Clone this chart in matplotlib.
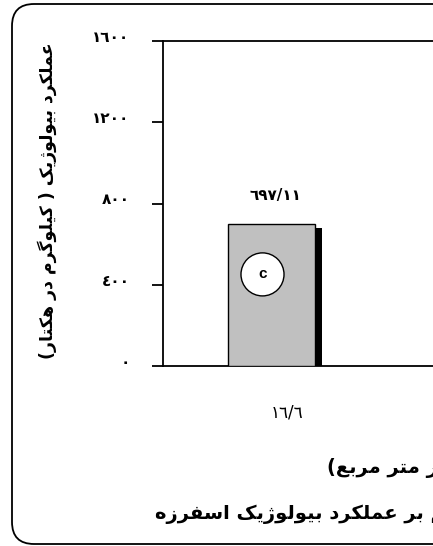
import numpy as np
import matplotlib
matplotlib.use('Agg')
import matplotlib.pyplot as plt
from matplotlib.patches import FancyBboxPatch
from matplotlib.transforms import ScaledTranslation

# data
densities = ['16.6']          # plants per square metre
bio_yield = [697.11]          # kg per hectare
groups = ['c']
y_ticks = [0, 400, 800, 1200, 1600]

ylabel_txt = 'عملکرد بیولوژیک ( کیلوگرم در هکتار)'
xlabel_txt = 'تراکم (تعداد بوته در متر مربع)'
title_txt = 'تأثیر تراکم بر عملکرد بیولوژیک اسفرزه'

# Arabic/Persian shaping by hand (matplotlib does no shaping or bidi)
# dual joining: isolated, final, initial, medial ; right joining: isolated, final
FORMS = {
    'ا': ('\ufe8d', '\ufe8e'), 'أ': ('\ufe83', '\ufe84'),
    'ب': ('\ufe8f', '\ufe90', '\ufe91', '\ufe92'),
    'پ': ('\ufb56', '\ufb57', '\ufb58', '\ufb59'),
    'ت': ('\ufe95', '\ufe96', '\ufe97', '\ufe98'),
    'ث': ('\ufe99', '\ufe9a', '\ufe9b', '\ufe9c'),
    'ج': ('\ufe9d', '\ufe9e', '\ufe9f', '\ufea0'),
    'د': ('\ufea9', '\ufeaa'), 'ر': ('\ufead', '\ufeae'),
    'ز': ('\ufeaf', '\ufeb0'), 'ژ': ('\ufb8a', '\ufb8b'),
    'س': ('\ufeb1', '\ufeb2', '\ufeb3', '\ufeb4'),
    'ش': ('\ufeb5', '\ufeb6', '\ufeb7', '\ufeb8'),
    'ع': ('\ufec9', '\ufeca', '\ufecb', '\ufecc'),
    'ف': ('\ufed1', '\ufed2', '\ufed3', '\ufed4'),
    'ک': ('\ufb8e', '\ufb8f', '\ufb90', '\ufb91'),
    'گ': ('\ufb92', '\ufb93', '\ufb94', '\ufb95'),
    'ل': ('\ufedd', '\ufede', '\ufedf', '\ufee0'),
    'م': ('\ufee1', '\ufee2', '\ufee3', '\ufee4'),
    'ن': ('\ufee5', '\ufee6', '\ufee7', '\ufee8'),
    'ه': ('\ufee9', '\ufeea', '\ufeeb', '\ufeec'),
    'و': ('\ufeed', '\ufeee'),
    'ی': ('\ufbfc', '\ufbfd', '\ufbfe', '\ufbff'),
}

def shape(text):
    out = []
    for i, ch in enumerate(text):
        if ch not in FORMS:
            out.append(ch)
            continue
        f = FORMS[ch]
        prev = text[i - 1] if i > 0 else ''
        nxt = text[i + 1] if i < len(text) - 1 else ''
        jp = prev in FORMS and len(FORMS[prev]) == 4
        jn = len(f) == 4 and nxt in FORMS
        if jp and jn:
            out.append(f[3])
        elif jp:
            out.append(f[1])
        elif jn:
            out.append(f[2])
        else:
            out.append(f[0])
    vis = ''.join(out)[::-1]
    return vis.translate(str.maketrans('()', ')('))

def to_ar(s):
    return str(s).translate(str.maketrans('0123456789.', '٠١٢٣٤٥٦٧٨٩/'))

plt.rcParams['font.family'] = ['DejaVu Sans']

fig = plt.figure(figsize=(4.33, 5.46), dpi=100)

# rounded frame round the whole chart
bg = fig.add_axes([0, 0, 1, 1])
bg.set_xlim(0, 433)
bg.set_ylim(546, 0)
bg.axis('off')
bg.add_patch(FancyBboxPatch((12, 4), 520, 540, boxstyle='round,pad=0,rounding_size=22',
                            fc='white', ec='black', lw=1.3))

ax = fig.add_axes([163 / 433, 180 / 546, 280 / 433, 325 / 546])
ax.patch.set_alpha(0)
x = np.arange(len(densities))
w = 0.348

shadow = ScaledTranslation(0.07, -0.04, fig.dpi_scale_trans)
ax.bar(x, bio_yield, width=w, color='black', transform=ax.transData + shadow, zorder=2)
ax.bar(x, bio_yield, width=w, color='#c0c0c0', edgecolor='black', lw=1, zorder=3)

for xi, v, g in zip(x, bio_yield, groups):
    ax.annotate(to_ar(v), (xi, v), xytext=(4, 29), textcoords='offset pixels',
                ha='center', va='center', fontsize=11, fontweight='bold')
    ax.annotate(g, (xi, v), xytext=(-9, -50), textcoords='offset pixels',
                ha='center', va='center', fontsize=11, fontweight='bold',
                family='Liberation Sans', zorder=4,
                bbox=dict(boxstyle='circle,pad=0.95', fc='white', ec='black', lw=1))

ax.set_xlim(-108.5 / 250, (280 - 108.5) / 250)
ax.set_ylim(0, 1600)
ax.set_yticks(y_ticks)
ax.set_yticklabels([to_ar(t) for t in y_ticks], fontsize=11, fontweight='bold')
ax.tick_params(axis='y', direction='out', length=8, width=1.3, pad=16)
for lab in ax.get_yticklabels():
    lab.set_transform(lab.get_transform() + ScaledTranslation(0, 0.05, fig.dpi_scale_trans))
ax.set_xticks(x)
ax.set_xticklabels([to_ar(d) for d in densities], fontsize=12)
ax.tick_params(axis='x', length=0, pad=27)
for lab in ax.get_xticklabels():
    lab.set_transform(lab.get_transform() + ScaledTranslation(0.16, 0, fig.dpi_scale_trans))
for s in ['left', 'top', 'bottom']:
    ax.spines[s].set_linewidth(1.3)
ax.spines['right'].set_visible(False)

fig.text(47 / 433, 1 - 201 / 546, shape(ylabel_txt), rotation=90, ha='center', va='center',
         fontsize=12.5, fontweight='bold')
fig.text(327 / 433, 1 - 468 / 546, shape(xlabel_txt), ha='left', va='center',
         fontsize=14, fontweight='bold')
fig.text(155 / 433, 1 - 512 / 546, shape(title_txt), ha='left', va='center',
         fontsize=14, fontweight='bold')

fig.savefig('out.png', dpi=100)
